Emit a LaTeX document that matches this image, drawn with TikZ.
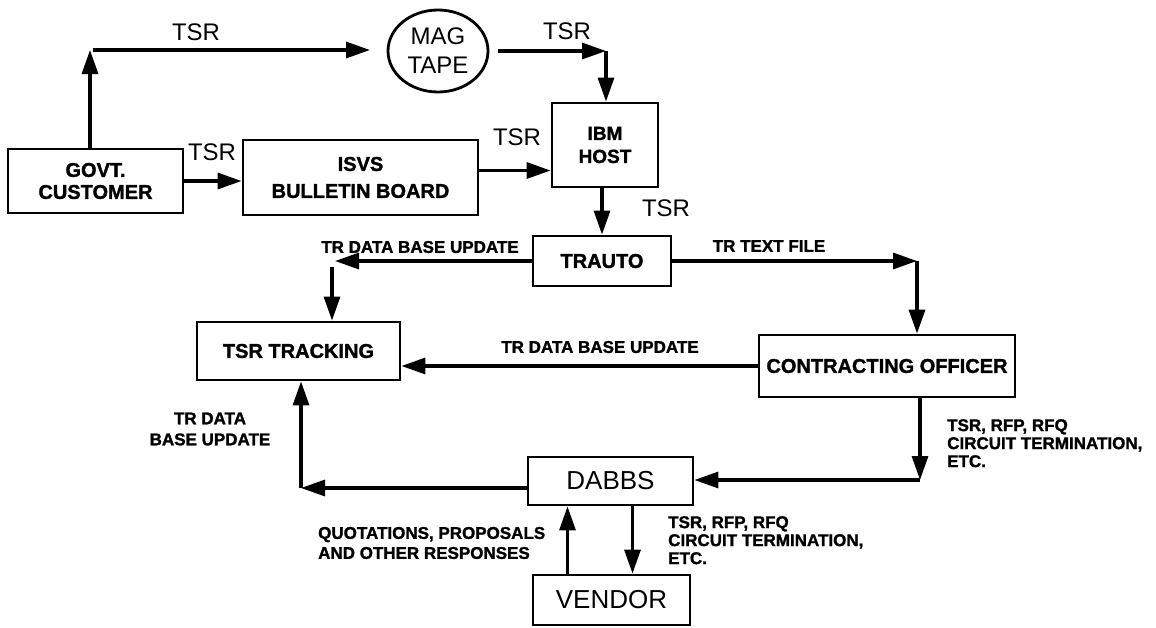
\documentclass[tikz,border=0pt]{standalone}
\usepackage{fontspec}
\setmainfont{Liberation Sans}
\newfontfamily\heavyfont{Liberation Sans Bold}[FakeBold=1.4]
\usepackage{tikz}
\usetikzlibrary{arrows.meta,positioning,shapes.geometric,calc}

\begin{document}
\begin{tikzpicture}[
  x=1pt,y=-1pt,
  blk/.style={draw,line width=2.8pt,align=center,inner sep=0pt,
              font=\fontsize{20}{22}\selectfont\heavyfont},
  plain/.style={draw,line width=2.8pt,align=center,inner sep=0pt,
                font=\fontsize{26}{28}\selectfont},
  tape/.style={draw,ellipse,line width=2.8pt,align=center,inner sep=0pt,
               font=\fontsize{24}{29}\selectfont},
  tsr/.style={font=\fontsize{24}{26}\selectfont,inner sep=0pt},
  lbl/.style={font=\fontsize{17}{19}\selectfont\heavyfont,align=left,inner sep=0pt},
  link/.style={-{Triangle[length=24pt,width=16pt]},line width=3.2pt}
]
\useasboundingbox (0,0) rectangle (1156,627);

\node[blk,minimum width=175pt,minimum height=64pt] (govt) at (95.5,181) {GOVT.\\CUSTOMER};
\node[blk,minimum width=235pt,minimum height=75pt,font=\fontsize{20}{27}\selectfont\heavyfont] (isvs) at (360.5,177.5) {ISVS\\BULLETIN BOARD};
\node[tape,minimum width=100pt,minimum height=82pt] (mag) at (438,51) {MAG\\TAPE};
\node[blk,minimum width=106pt,minimum height=84pt,font=\fontsize{19}{23}\selectfont\heavyfont] (ibm) at (605,145) {IBM\\HOST};
\node[blk,minimum width=138pt,minimum height=50pt] (trauto) at (602,261) {TRAUTO};
\node[blk,minimum width=203pt,minimum height=58pt] (track) at (298.5,351) {TSR TRACKING};
\node[blk,minimum width=256pt,minimum height=62pt] (co) at (887,366) {CONTRACTING OFFICER};
\node[plain,minimum width=165pt,minimum height=48pt] (dabbs) at (610.5,481) {DABBS};
\node[plain,minimum width=157pt,minimum height=50pt] (vendor) at (611.5,600) {VENDOR};

\coordinate (up) at (90,50);
\coordinate (tapeend) at (370,50);
\coordinate (tapeturn) at (606,51);
\coordinate (trleft) at (335,261);
\coordinate (trdown) at (332,267);
\coordinate (trright) at (917,261);
\coordinate (coturn) at (920,480);
\coordinate (dbleft) at (301,488);

\draw[link] (govt.north -| up) -- (up);
\draw[link] ([xshift=3pt]up) -- (tapeend);
\draw[link] ([xshift=9pt]mag.east) -- (tapeturn);
\draw[link] (tapeturn) -- (tapeturn |- ibm.north);
\draw[link] (govt.east) -- (govt.east -| isvs.west);
\draw[link] ([yshift=7pt]isvs.east) -- ([yshift=7pt]isvs.east -| ibm.west);
\draw[link] (ibm.south -| trauto.north) -- (trauto.north);
\draw[link] (trauto.west) -- (trleft);
\draw[link] (trdown) -- (trdown |- track.north);
\draw[link] (trauto.east) -- (trright);
\draw[link] (trright) -- (trright |- co.north);
\draw[link] (co.west) -- (co.west -| track.east);
\draw[link] (co.south -| coturn) -- (coturn);
\draw[link] (coturn) -- (coturn -| dabbs.east);
\draw[link] ([yshift=-7pt]dabbs.west) -- (dbleft);
\draw[link] (dbleft) -- (dbleft |- track.south);
\draw[link] ([xshift=-44pt]vendor.north) -- ([xshift=-44pt]vendor.north |- dabbs.south);
\draw[link] ([xshift=22pt]dabbs.south) -- ([xshift=22pt]dabbs.south |- vendor.north);

\node[tsr] (t1) at (196,32) {TSR};
\node[tsr] (t2) at (212,152) {TSR};
\node[tsr] (t3) at (567,31) {TSR};
\node[tsr] (t4) at (517,137) {TSR};
\node[tsr] (t5) at (666,208) {TSR};
\node[lbl] (l1) at (420,247) {TR DATA BASE UPDATE};
\node[lbl] (l2) at (769,246) {TR TEXT FILE};
\node[lbl] (l3) at (600,347) {TR DATA BASE UPDATE};
\node[lbl,align=center,font=\fontsize{17}{21}\selectfont\heavyfont] (l4) at (210,429) {TR DATA\\BASE UPDATE};
\node[lbl,anchor=north west,font=\fontsize{17}{18}\selectfont\heavyfont] (l5) at (947,419) {TSR, RFP, RFQ\\CIRCUIT TERMINATION,\\ETC.};
\node[lbl,anchor=north west,font=\fontsize{17}{18}\selectfont\heavyfont] (l6) at (668,516) {TSR, RFP, RFQ\\CIRCUIT TERMINATION,\\ETC.};
\node[lbl,anchor=west,font=\fontsize{17}{20}\selectfont\heavyfont] (l7) at (318,543) {QUOTATIONS, PROPOSALS\\AND OTHER RESPONSES};
\end{tikzpicture}
\end{document}
